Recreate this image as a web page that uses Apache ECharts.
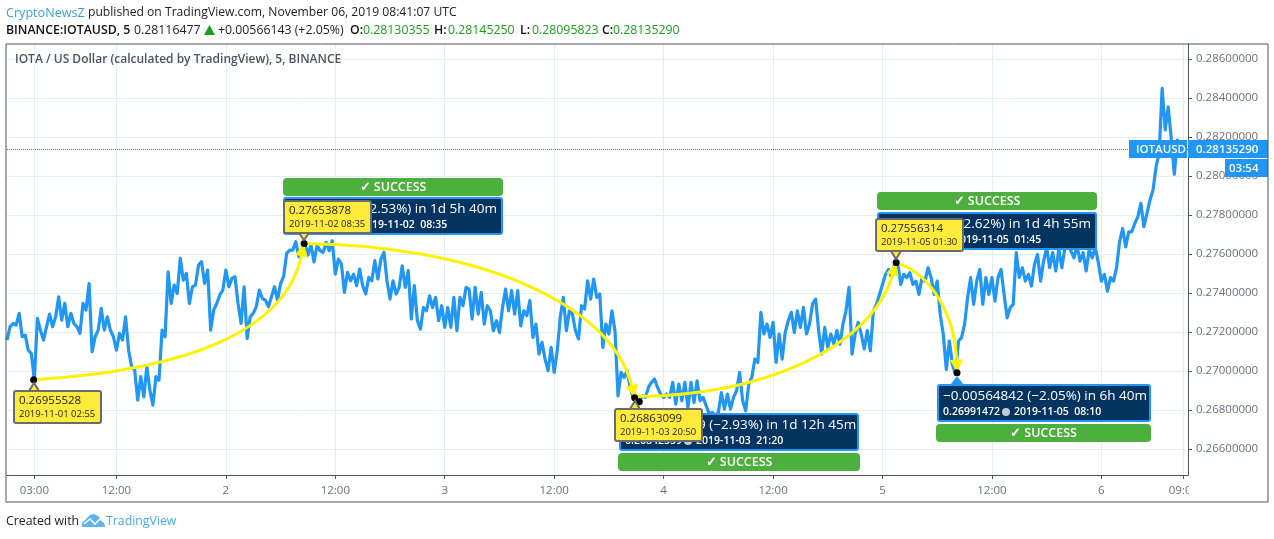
<!DOCTYPE html>
<html>
<head>
<meta charset="utf-8">
<style>html,body{margin:0;padding:0;background:#fff}#chart{width:1274px;height:539px}</style>
<script src="https://cdn.jsdelivr.net/npm/echarts@6/dist/echarts.min.js"></script>
</head>
<body>
<div id="chart"></div>
<script>
// prices, one value every 20 minutes, starting 2019-11-01 00:00
const day1Prices = [
  .27159,.27227,.27244,.27236,.27296,.27176,.27184,.27107,.2709,.26955,.2727,.2721,
  .27159,.27227,.27292,.27227,.27278,.27381,.27261,.27347,.27227,.27296,.27244,.27227,
  .27193,.27347,.27313,.27449,.27099,.27176,.2721,.27321,.2721,.27278,.2721,.27176,
  .27107,.27193,.27159,.27278,.27107,.27022,.27005,.26851,.26971,.26868,.27022,.26902,
  .26825,.26971,.26953,.2721,.27176,.27509,.27347,.27441,.27398,.27578,.27466,.27501,
  .27347,.27432,.27441,.27543,.27561,.27449,.27518,.2721,.27313,.27347,.2739,.27415
]
const day2Prices = [
  .27518,.27432,.27475,.27484,.27347,.27244,.27432,.27167,.27278,.27296,.2733,.27415,
  .27372,.27364,.2733,.27381,.27432,.27364,.27449,.27484,.27603,.2762,.2762,.27663,
  .27586,.27612,.27654,.27595,.27646,.27559,.27646,.27617,.27609,.2766,.27617,.27668,
  .27497,.27574,.27549,.27403,.27506,.27463,.27497,.27438,.27523,.27438,.27395,.2748,
  .27463,.27566,.27472,.27574,.27609,.27463,.27369,.27463,.27395,.27429,.2754,.27429,
  .27515,.27267,.27438,.27258,.27215,.27326,.27309,.27386,.27326,.27378,.27258,.27335
]
const day3Prices = [
  .27224,.27326,.27224,.27378,.27207,.27378,.27335,.27429,.2742,.27267,.27429,.27292,
  .27403,.27241,.27335,.27309,.27207,.27258,.27198,.27326,.2742,.27309,.27412,.27292,
  .27412,.27232,.27309,.27284,.27361,.27173,.27241,.27087,.27147,.27061,.27002,.27121,
  .26993,.27104,.27275,.27378,.27207,.27309,.27292,.27207,.27164,.27335,.27318,.27463,
  .27369,.27472,.27378,.27395,.27121,.27241,.2719,.27309,.27207,.26873,.26993,.26967,
  .27002,.26916,.26863,.26856,.26842,.26873,.26865,.26916,.26942,.26959,.26916,.26882
]
const day4Prices = [
  .26865,.26882,.26865,.26942,.26831,.26933,.26848,.26942,.26813,.26942,.26839,.2695,
  .26848,.26865,.26822,.26779,.26788,.26771,.26788,.2689,.26805,.26882,.26805,.26865,
  .26899,.26993,.26848,.26796,.26933,.26967,.27061,.27044,.27301,.2719,.27241,.27173,
  .2725,.27044,.2719,.27061,.27198,.27258,.27301,.27198,.27309,.27224,.27326,.2719,
  .27241,.27344,.27369,.27207,.27087,.27224,.27121,.2719,.27138,.27207,.27138,.27241,
  .27309,.27429,.27087,.2719,.2725,.2719,.27113,.27207,.27104,.27308,.27342,.27393
]
const day5Prices = [
  .27444,.27496,.27521,.27479,.2755,.27556,.27444,.27496,.27479,.27504,.27444,.27461,
  .27393,.27479,.27461,.2753,.27479,.27393,.27461,.2729,.27188,.27008,.27154,.27034,
  .26985,.27154,.27171,.27239,.27376,.27479,.27342,.27461,.27521,.27342,.27479,.27393,
  .27479,.27359,.27479,.27521,.27393,.27273,.27325,.27342,.27607,.27479,.2753,.27461,
  .27496,.27436,.27547,.27598,.27461,.27564,.27632,.2753,.27607,.27513,.27624,.2753,
  .27632,.2765,.27615,.27581,.27641,.27564,.27607,.27513,.27624,.27581,.27632,.27556
]
const day6Prices = [
  .27461,.27496,.2741,.27479,.27461,.2753,.27663,.27731,.27637,.27714,.27714,.27757,
  .27791,.2786,.2774,.27808,.27877,.27928,.28048,.28116,.2845,.28236,.28355,.28189,
  .28009,.28184,.28135290
]
const prices = [...day1Prices, ...day2Prices, ...day3Prices, ...day4Prices, ...day5Prices, ...day6Prices]

const xTickHours = [3, 12, 24, 36, 48, 60, 72, 84, 96, 108, 120, 129]
const xTickLabels = ['03:00', '12:00', '2', '12:00', '3', '12:00', '4', '12:00', '5', '12:00', '6', '09:00']
const yTicks = [.266, .268, .27, .272, .274, .276, .278, .28, .282, .284, .286]
const lastPrice = 0.2813529

// [hour, price] of the pivots the drawing is anchored on
const pivots = [[2.92, .26955528], [32.58, .27653878], [68.83, .26863099], [69.33, .26842559], [97.5, .27556314], [104.17, .26991472]]
// bezier arrows as [hour, price] start, control, control, end
const arrows = [
  [[2.92, .26955528], [20.07, .27005], [30.48, .2721], [32.58, .27653878]],
  [[32.58, .27653878], [50.77, .27646], [66.12, .27364], [68.83, .26863099]],
  [[69.2, .2687], [82.57, .26877], [94.63, .27108], [97.5, .27556314]],
  [[97.5, .27556314], [101.75, .27492], [103.95, .27262], [104.17, .26991472]]
]

const FONT = '"Open Sans", "Noto Sans", sans-serif'
const BLUE = '#2196f3'
const YELLOW = '#fff200'

let zOrder = 50
const rect = (x, y, w, h, fill, extra) => ({
  type: 'rect', z: zOrder++, silent: true,
  shape: { x, y, width: w, height: h, r: (extra && extra.r) || 0 },
  style: { fill, stroke: extra && extra.stroke, lineWidth: (extra && extra.lineWidth) || 0 }
})
const text = (x, y, str, fill, size, extra) => ({
  type: 'text', z: zOrder++, silent: true, x, y,
  style: Object.assign({ text: str, fill, font: `${size}px ${FONT}`, textVerticalAlign: 'middle' }, extra)
})
const poly = (points, fill, stroke, lineWidth) => ({
  type: 'polygon', z: zOrder++, silent: true, shape: { points },
  style: { fill, stroke, lineWidth: lineWidth || 0 }
})

// dark result box with its green SUCCESS bar, both text rows start at the same left edge
function resultBox(x, y, w, line1, price, date, greenX, greenY, greenW) {
  const left = x + 6
  return [
    rect(x + 1, y + 1, w - 2, 36, '#063460', { stroke: BLUE, lineWidth: 2, r: 2 }),
    text(left, y + 12, line1, '#fff', 13.5),
    text(left, y + 28, price, '#fff', 10.5, { font: `600 10.5px ${FONT}` }),
    { type: 'circle', z: zOrder++, silent: true, shape: { cx: left + 63, cy: y + 28, r: 4 }, style: { fill: '#c4ccd4' } },
    text(left + 71, y + 28, date, '#fff', 10.5, { font: `600 10.5px ${FONT}` }),
    rect(greenX, greenY, greenW, 18, '#4caf3e', { r: 4 }),
    text(greenX + greenW / 2, greenY + 9.5, '✓ SUCCESS', '#fff', 12.5, { textAlign: 'center', font: `600 12.5px ${FONT}` })
  ]
}

// yellow price note, pointer goes up or down to the tip
function note(x, y, price, date, tipX, tipY) {
  const h = 32
  const baseY = tipY < y ? y : y + h
  return [
    poly([[tipX - 5, baseY], [tipX + 5, baseY], [tipX, tipY]], '#ffeb3b', '#6b6b6b', 2),
    rect(x, y, 87, h, '#ffeb3b', { stroke: '#6b6b6b', lineWidth: 2, r: 2 }),
    text(x + 5, y + 10, price, '#222', 11.5),
    text(x + 5, y + 23, date, '#222', 9.5)
  ]
}

const boldFont = `600 12.3px ${FONT}`
const topText = [
  text(6, 13, 'CryptoNewsZ', '#3a9fe0', 12.6),
  text(88, 13, 'published on TradingView.com, November 06, 2019 08:41:07 UTC', '#222', 12.15),
  text(6, 30, 'BINANCE:IOTAUSD, 5', '#111', 12.3, { font: boldFont }),
  text(134, 30, '0.28116477', '#222', 12.3),
  poly([[204, 35], [215, 35], [209.5, 25]], '#1a9e1a'),
  text(218, 30, '+0.00566143 (+2.05%)', '#222', 12.3),
  text(350, 30, 'O:', '#111', 12.3, { font: boldFont }),
  text(363, 30, '0.28130355', '#1aa01a', 12.3),
  text(434, 30, 'H:', '#111', 12.3, { font: boldFont }),
  text(448, 30, '0.28145250', '#1aa01a', 12.3),
  text(520, 30, 'L:', '#111', 12.3, { font: boldFont }),
  text(532, 30, '0.28095823', '#1aa01a', 12.3),
  text(602, 30, 'C:', '#111', 12.3, { font: boldFont }),
  text(613, 30, '0.28135290', '#1aa01a', 12.3),
  text(15, 60, 'IOTA / US Dollar (calculated by TradingView), 5, BINANCE', '#50535e', 12, { font: `600 12px ${FONT}` })
]

const footer = [
  text(6, 521, 'Created with', '#222', 12.3),
  poly([[82, 527], [82, 523], [90, 515], [94, 514], [98, 516], [104, 522], [105, 527]], '#5eb2ee'),
  { type: 'polyline', z: zOrder++, silent: true,
    shape: { points: [[84, 524], [90, 519], [95, 524], [100, 519], [105, 523]] }, style: { stroke: '#fff', fill: 'none', lineWidth: 1.6 } },
  text(106, 521, 'TradingView', '#4aa8ec', 12.3)
]

const priceTags = [
  rect(1189, 476, 78, 25, '#fff'),
  rect(1129, 140, 58, 18, BLUE),
  text(1136, 149.5, 'IOTAUSD', '#fff', 11.5, { font: `600 11.5px ${FONT}` }),
  rect(1188, 140, 80, 18, BLUE),
  text(1196, 149.5, '0.28135290', '#fff', 11.5, { font: `600 11.5px ${FONT}` }),
  rect(1225, 159, 43, 18, BLUE),
  text(1229, 168.5, '03:54', '#fff', 11.5, { font: `600 11.5px ${FONT}` })
]

const frame = [
  { type: 'rect', z: zOrder + 200, silent: true, shape: { x: 6, y: 44, width: 1262, height: 458 }, style: { fill: 'none', stroke: '#50535e', lineWidth: 1 } }
]

const annotations = [
  ...priceTags,
  poly([[951, 384], [963, 384], [957, 376]], BLUE),
  ...resultBox(283, 197, 220, '0.00698350 (2.53%) in 1d 5h 40m', '0.27653878', '2019-11-02  08:35', 283, 178, 220),
  ...resultBox(619, 413, 240, '−0.00811319 (−2.93%) in 1d 12h 45m', '0.26842559', '2019-11-03  21:20', 618, 453, 242),
  ...resultBox(877, 212, 220, '0.00730487 (2.62%) in 1d 4h 55m', '0.27572477', '2019-11-05  01:45', 877, 192, 220),
  ...resultBox(937, 384, 214, '−0.00564842 (−2.05%) in 6h 40m', '0.26991472', '2019-11-05  08:10', 936, 424, 215),
  ...note(14, 391, '0.26955528', '2019-11-01 02:55', 34, 383),
  ...note(284, 201, '0.27653878', '2019-11-02 08:35', 304, 240),
  ...note(615, 409, '0.26863099', '2019-11-03 20:50', 635, 401),
  ...note(876, 219, '0.27556314', '2019-11-05 01:30', 896, 259),
  ...topText,
  ...footer,
  ...frame
]

function renderArrow(params, api) {
  const pts = arrows[params.dataIndex].map(p => api.coord(p))
  const [p0, p1, p2, p3] = pts
  const angle = Math.atan2(p3[1] - p2[1], p3[0] - p2[0])
  const len = 13
  const half = 6.5
  const bx = p3[0] - Math.cos(angle) * len
  const by = p3[1] - Math.sin(angle) * len
  const nx = -Math.sin(angle) * half
  const ny = Math.cos(angle) * half
  return {
    type: 'group',
    children: [
      { type: 'bezierCurve',
        shape: { x1: p0[0], y1: p0[1], cpx1: p1[0], cpy1: p1[1], cpx2: p2[0], cpy2: p2[1], x2: bx, y2: by },
        style: { stroke: YELLOW, fill: 'none', lineWidth: 3 } },
      { type: 'polygon',
        shape: { points: [[p3[0], p3[1]], [bx + nx, by + ny], [bx - nx, by - ny]] },
        style: { fill: YELLOW } }
    ]
  }
}

function renderDot(params, api) {
  const c = api.coord(pivots[params.dataIndex])
  return { type: 'circle', shape: { cx: c[0], cy: c[1], r: 3.5 }, style: { fill: '#000' } }
}

const chart = echarts.init(document.getElementById('chart'), null, { renderer: 'canvas' })
chart.setOption({
  animation: false,
  backgroundColor: '#fff',
  textStyle: { fontFamily: FONT },
  grid: { left: 7, right: 86, top: 44, bottom: 64 },
  xAxis: {
    type: 'value', min: 0, max: 129.5,
    axisLine: { show: true, onZero: false, lineStyle: { color: '#50535e' } },
    axisTick: { show: true, length: 4, customValues: xTickHours, lineStyle: { color: '#50535e' } },
    axisLabel: {
      customValues: xTickHours, margin: 10, fontSize: 11.5, color: '#6b6f7a', hideOverlap: false,
      showMinLabel: true, showMaxLabel: true,
      formatter: v => xTickLabels[xTickHours.indexOf(v)]
    },
    splitLine: { show: true, lineStyle: { color: '#e6eef5' } }
  },
  yAxis: {
    type: 'value', position: 'right', min: 0.26467, max: 0.28677, scale: true,
    axisLine: { show: true, onZero: false, lineStyle: { color: '#50535e' } },
    axisTick: { show: true, length: 4, customValues: yTicks, lineStyle: { color: '#50535e' } },
    axisLabel: {
      customValues: yTicks, margin: 8, fontSize: 11.5, color: '#6b6f7a',
      formatter: v => v.toFixed(8)
    },
    splitLine: { show: true, lineStyle: { color: '#e6eef5' } }
  },
  graphic: { elements: annotations },
  series: [
    {
      type: 'line', z: 3, showSymbol: false, silent: true,
      data: prices.map((p, i) => [i / 3, p]),
      lineStyle: { color: BLUE, width: 3.2, join: 'round' },
      markLine: {
        silent: true, symbol: 'none', precision: 8, label: { show: false },
        lineStyle: { color: '#1b7fc9', type: 'dotted', width: 1 },
        data: [{ yAxis: lastPrice }]
      }
    },
    { type: 'custom', z: 10, silent: true, clip: false, data: arrows.map((a, i) => i), renderItem: renderArrow },
    { type: 'custom', z: 11, silent: true, clip: false, data: pivots.map((p, i) => i), renderItem: renderDot }
  ]
})
</script>
</body>
</html>
